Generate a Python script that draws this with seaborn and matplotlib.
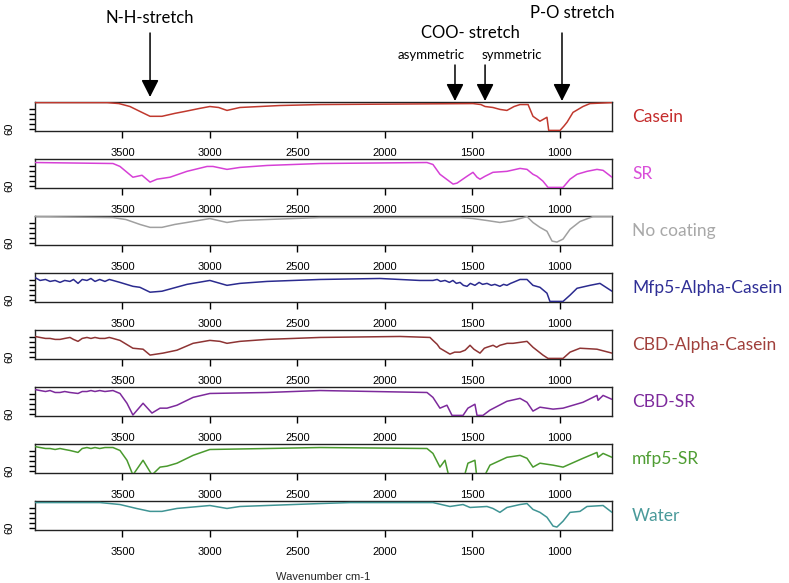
"""
FTIR spectra of coatings, stacked panels
"""

import numpy as np
import pandas as pd
import matplotlib
matplotlib.use('Agg')
import matplotlib.pyplot as plt
import seaborn as sns

# ---- data ----
names = ['Casein', 'SR', 'No coating', 'Mfp5-Alpha-Casein',
         'CBD-Alpha-Casein', 'CBD-SR', 'mfp5-SR', 'Water']
line_colors = ['#c0392e', '#d640d6', '#a0a0a0', '#2b2b8f',
               '#8e3434', '#7d2a9c', '#4a9a2e', '#3f9494']
label_colors = ['#c42c2c', '#d94fd9', '#a8a8a8', '#2f2f96',
                '#a0403c', '#7d2a9c', '#4f9d33', '#4a9a9a']

casein_wn = [4000, 3588, 3520, 3457, 3400, 3342, 3274, 3200, 3142, 3060, 3000,
             2950, 2902, 2828, 2600, 2370, 1495, 1450, 1426, 1381, 1340, 1301,
             1260, 1226, 1180, 1152, 1112, 1072, 1062, 997, 975, 957, 923, 866,
             826, 700]
casein_t = [87, 87, 86, 83, 78, 73, 73, 76, 78, 81, 83,
            82, 79, 82, 84, 85, 86, 85, 83, 82, 80, 79,
            83, 85, 85, 73, 68, 72, 58.6, 58.6, 63, 67, 77, 83,
            86, 87]

sr_wn = [4000, 3554, 3514, 3440, 3388, 3342, 3302, 3228, 3131, 3016, 2982, 2902,
         2828, 2673, 2370, 1758, 1724, 1684, 1609, 1586, 1529, 1495, 1472, 1455,
         1426, 1381, 1301, 1226, 1186, 1152, 1129, 1095, 1066, 980, 940, 900,
         843, 786, 751, 700]
sr_t = [84, 83, 80, 69, 71, 64, 67, 69, 75, 80, 80, 77,
        79, 81, 83, 84, 82, 72, 62, 63, 70, 74, 69, 67,
        70, 74, 75, 78, 77, 72, 70, 65, 58.6, 58.6, 67, 72,
        75, 77, 76, 69]

nocoat_wn = [4000, 3554, 3480, 3400, 3342, 3274, 3200, 3131, 3000, 2902, 2828,
             2370, 1569, 1495, 1415, 1341, 1266, 1186, 1152, 1112, 1072, 1043,
             1015, 980, 940, 883, 809, 700]
nocoat_t = [87, 86, 84, 79, 76, 76, 79, 81, 85, 81, 83,
            86, 86, 85, 83, 81, 83, 87, 81, 76, 72, 62,
            61, 64, 74, 82, 87, 87]

mfp5ac_wn = [4000, 3971, 3940, 3914, 3885, 3857, 3830, 3800, 3780, 3754, 3730,
             3703, 3680, 3657, 3630, 3600, 3575, 3554, 3514, 3440, 3400, 3342,
             3274, 3131, 3000, 2902, 2828, 2673, 2370, 2027, 1800, 1724, 1700,
             1680, 1655, 1630, 1610, 1590, 1569, 1550, 1529, 1510, 1484, 1460,
             1440, 1415, 1390, 1370, 1341, 1320, 1301, 1280, 1266, 1226, 1186,
             1152, 1112, 1072, 1055, 980, 940, 900, 826, 769, 700]
mfp5ac_t = [83, 80, 81, 79, 80, 78, 80, 79, 81, 77, 81,
            80, 82, 79, 81, 79, 81, 80, 78, 74, 73, 68,
            69, 76, 80, 75, 77, 79, 81, 82, 80, 80, 81,
            79, 80, 78, 80, 77, 78, 75, 74, 77, 75, 78,
            76, 77, 75, 76, 74, 76, 75, 77, 78, 81, 81,
            75, 73, 67, 58.6, 58.6, 65, 72, 75, 77, 69]

cbdac_wn = [4000, 3971, 3940, 3914, 3885, 3857, 3830, 3800, 3780, 3754, 3730,
            3703, 3680, 3657, 3630, 3600, 3575, 3554, 3514, 3440, 3382, 3342,
            3268, 3188, 3096, 3000, 2942, 2902, 2828, 2673, 2370, 1912, 1741,
            1724, 1700, 1684, 1627, 1600, 1569, 1540, 1512, 1490, 1455, 1430,
            1415, 1380, 1360, 1341, 1320, 1300, 1266, 1186, 1152, 1095, 1066,
            980, 940, 883, 786, 700]
cbdac_t = [81, 80, 79, 79, 78, 78, 79, 80, 78, 76, 79,
           80, 79, 80, 79, 79, 80, 79, 77, 69, 68, 62,
           64, 67, 74, 77, 76, 74, 76, 78, 80, 81, 80,
           77, 73, 69, 63, 65, 65, 67, 72, 68, 64, 69,
           70, 72, 70, 72, 73, 74, 74, 76, 70, 62, 58.6,
           58.6, 65, 69, 68, 64]

cbdsr_wn = [4000, 3971, 3940, 3914, 3885, 3857, 3830, 3800, 3754, 3730, 3703,
            3680, 3657, 3630, 3600, 3554, 3514, 3474, 3440, 3382, 3331, 3285,
            3245, 3188, 3096, 3000, 2673, 2370, 1758, 1724, 1684, 1644, 1615,
            1552, 1524, 1484, 1472, 1438, 1398, 1301, 1226, 1186, 1152, 1112,
            1037, 980, 866, 786, 780, 751, 700]
cbdsr_t = [85, 84, 83, 84, 82, 82, 83, 82, 81, 83, 83,
           84, 83, 84, 83, 84, 81, 71, 59, 71, 61, 66,
           66, 69, 77, 81, 82, 84, 82, 77, 66, 69, 58.6,
           58.6, 66, 70, 58.6, 58.6, 64, 73, 76, 72, 63, 67,
           65, 66, 72, 79, 74, 79, 75]

mfp5sr_wn = [4000, 3971, 3940, 3914, 3885, 3857, 3830, 3800, 3754, 3730, 3703,
             3680, 3657, 3630, 3600, 3554, 3514, 3474, 3440, 3382, 3331, 3285,
             3245, 3188, 3096, 3000, 2673, 2370, 1758, 1724, 1684, 1655, 1627,
             1552, 1524, 1484, 1472, 1438, 1398, 1301, 1226, 1186, 1152, 1112,
             1037, 980, 866, 786, 780, 751, 700]
mfp5sr_t = [85, 84, 83, 83, 82, 83, 82, 81, 79, 83, 84,
            83, 84, 83, 84, 84, 81, 71, 56, 71, 56, 64,
            65, 68, 76, 82, 83, 84, 83, 78, 64, 71, 50,
            50, 68, 71, 52, 52, 66, 74, 76, 73, 64, 68,
            66, 64, 73, 79, 74, 78, 74]

water_wn = [4000, 3628, 3514, 3420, 3342, 3274, 3188, 3000, 2902, 2828, 2370,
            2198, 1724, 1627, 1552, 1512, 1415, 1381, 1341, 1301, 1226, 1186,
            1152, 1112, 1072, 1037, 1015, 980, 940, 883, 843, 751, 700]
water_t = [86, 86, 84, 80, 77, 77, 80, 83, 80, 82, 85,
           86, 86, 82, 84, 81, 82, 80, 76, 81, 84, 85,
           79, 76, 71, 62, 61, 67, 76, 77, 82, 83, 76]

spectra = [(casein_wn, casein_t), (sr_wn, sr_t), (nocoat_wn, nocoat_t),
           (mfp5ac_wn, mfp5ac_t), (cbdac_wn, cbdac_t), (cbdsr_wn, cbdsr_t),
           (mfp5sr_wn, mfp5sr_t), (water_wn, water_t)]

x_ticks = [3500, 3000, 2500, 2000, 1500, 1000]
y_ticks = [60, 65, 70, 75, 80]

# ---- layout (pixels) ----
W, H = 789, 583
LEFT, RIGHT = 35, 612
PANEL_H = 29
bottoms = [131 + 57 * i for i in range(8)]

sns.set_theme(style='white')
plt.rcParams['font.family'] = ['Liberation Sans', 'DejaVu Sans']

fig = plt.figure(figsize=(W / 100, H / 100), dpi=100)
fig.patch.set_facecolor('white')

axes = []
for i, (wn, t) in enumerate(spectra):
    b = bottoms[i]
    ax = fig.add_axes([LEFT / W, (H - b) / H, (RIGHT - LEFT) / W, PANEL_H / H])
    df = pd.DataFrame({'wn': wn, 'T': t})
    sns.lineplot(data=df, x='wn', y='T', color=line_colors[i], lw=1.1, ax=ax,
                 zorder=3)
    ax.set_xlim(4000, 700)
    ax.set_ylim(58, 87.6)
    ax.set_xticks(x_ticks)
    ax.set_xticklabels([str(v) for v in x_ticks], fontsize=8)
    ax.set_yticks(y_ticks)
    ax.set_yticklabels(['60', '', '', '', ''], fontsize=8, rotation=90, va='center')
    ax.set_xlabel('')
    ax.set_ylabel('')
    ax.tick_params(axis='x', direction='out', length=5, width=1, pad=7,
                   colors='black', bottom=True)
    ax.tick_params(axis='y', direction='out', length=4, width=1, pad=11,
                   colors='black', left=True)
    for s in ax.spines.values():
        s.set_color('#222222')
        s.set_linewidth(1.0)
    ax.set_facecolor('white')
    ax.grid(False)
    fig.text(632 / W, (H - (b - 14)) / H, names[i], color=label_colors[i],
             fontsize=12.5, family='Lato', va='center', ha='left')
    axes.append(ax)

fig.text(323 / W, (H - 577) / H, 'Wavenumber cm-1', fontsize=8,
         ha='center', va='center')

# ---- band annotations ----
ax0 = axes[0]
arrow_kw = dict(arrowstyle='-|>,head_width=0.38,head_length=0.75',
                color='black', lw=1.1, mutation_scale=14, shrinkA=0, shrinkB=0)
for wn, y0, y1 in [(3342, 33, 97), (1598, 65, 101), (1426, 65, 101), (986, 33, 101)]:
    ax0.annotate('', xy=(wn, H - y1), xycoords=('data', 'figure pixels'),
                 xytext=(wn, H - y0), textcoords=('data', 'figure pixels'),
                 arrowprops=arrow_kw, annotation_clip=False)

ann_font = dict(family='Lato', color='black', ha='center', va='center')
fig.text(150 / W, (H - 18) / H, 'N-H-stretch', fontsize=12, **ann_font)
fig.text(470 / W, (H - 33) / H, 'COO- stretch', fontsize=12, **ann_font)
fig.text(431 / W, (H - 55) / H, 'asymmetric', fontsize=9.5, **ann_font)
fig.text(512 / W, (H - 55) / H, 'symmetric', fontsize=9.5, **ann_font)
fig.text(572 / W, (H - 13) / H, 'P-O stretch', fontsize=12, **ann_font)

plt.savefig('out.png', dpi=100, facecolor='white')
plt.close()
